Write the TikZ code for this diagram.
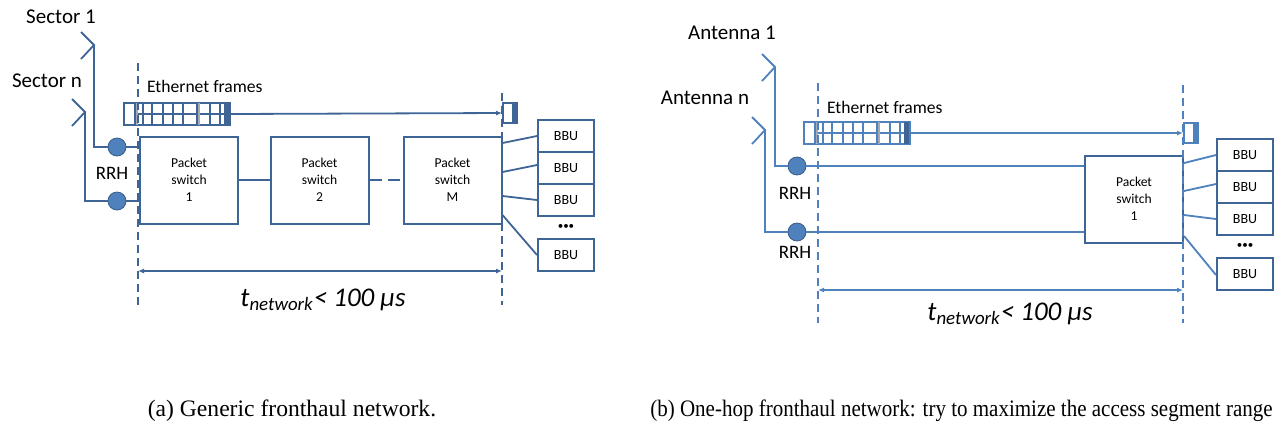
\documentclass[tikz,border=0pt]{standalone}
\usepackage{fontspec}
\setmainfont{Carlito}
\newfontfamily\capfont{Liberation Serif}
\usetikzlibrary{arrows.meta}

\definecolor{wirea}{RGB}{63,100,150}
\definecolor{wireb}{RGB}{79,129,189}
\definecolor{rrhfill}{RGB}{79,129,189}
\definecolor{rrhedge}{RGB}{56,93,138}
\definecolor{framegray}{RGB}{165,170,180}

\newcommand{\pktsize}{\fontsize{6.8}{8.5}\selectfont}
\newcommand{\bbusize}{\fontsize{7}{8}\selectfont}
\newcommand{\tagsize}{\fontsize{10.5}{12}\selectfont}

% chevron antenna, apex gets the name #1
\newcommand{\antenna}[4]{
    \draw[#4, line width=0.9pt] (#2-13,#3-13) -- (#2,#3) -- (#2-13,#3+14);
    \coordinate (#1) at (#2,#3);
}
% queue of ethernet frames, west end at (#2,#3)
\newcommand{\frameq}[5]{
    \node[draw=#4, line width=0.8pt, minimum width=53pt, minimum height=11pt,
          inner sep=0pt, anchor=west] (#1) at (#2,#3) {};
    \draw[#4, line width=0.6pt] (#2+12,#3) -- (#2+106,#3);
    \foreach \d in {12,74} {
        \draw[framegray, line width=1.4pt] ({#2+\d+2},#3-11) -- ++(0,22);
    }
    \foreach \d in {12,20,29,40,50,60,74,87,97} {
        \draw[#4, line width=0.8pt] ({#2+\d},#3-11) -- ++(0,22);
    }
    \fill[#5] (#2+101,#3-11) rectangle (#2+106,#3+11);
}
% frame that arrived at the far side
\newcommand{\rxframe}[4]{
    \node[draw=#4, line width=0.8pt, minimum width=7pt, minimum height=10pt,
          inner sep=0pt, anchor=west] (#1) at (#2,#3) {};
    \fill[#4] ([xshift=-3pt]#1.north east) rectangle (#1.south east);
}

\begin{document}
\begin{tikzpicture}[x=0.5pt, y=-0.5pt,
    wire/.style={line width=0.9pt},
    cut/.style={dash pattern=on 4pt off 2.5pt, line width=0.8pt},
    pswitch/.style={draw=wirea, line width=1pt, minimum width=49pt, minimum height=43.5pt,
                    inner sep=0pt, align=center, font=\pktsize},
    bbu/.style={draw=wirea, line width=1pt, minimum width=28pt, minimum height=16pt,
                inner sep=0pt, font=\bbusize},
    rrh/.style={circle, fill=rrhfill, draw=rrhedge, line width=0.4pt, minimum size=9pt, inner sep=0pt},
    span/.style={{Latex[length=3pt,width=2.5pt]}-{Latex[length=3pt,width=2.5pt]}, line width=0.8pt},
    delay/.style={font=\fontsize{13.5}{15}\selectfont\itshape},
    caption/.style={font=\capfont\fontsize{11.8}{13}\selectfont},
]
\useasboundingbox (0,0) rectangle (1280,430);

% (a) generic fronthaul network
\node[font=\tagsize] (sec1) at (61,17) {Sector 1};
\node[font=\tagsize] (secn) at (47,81) {Sector n};
\antenna{antA1}{94}{45}{wirea}
\antenna{antAn}{85}{112}{wirea}
\node[rrh] (rrhA1) at (117,147) {};
\node[rrh] (rrhAn) at (117,201) {};
\node[font=\fontsize{9.5}{11}\selectfont] (rrhlabA) at (112,173) {RRH};
\draw[wirea, wire] (antA1) |- (rrhA1);
\draw[wirea, wire] (antAn) |- (rrhAn);

\node[pswitch] (psA1) at (189,180) {Packet\\switch\\1};
\node[pswitch] (psA2) at (319.5,180) {Packet\\switch\\2};
\node[pswitch] (psAM) at (452.5,180) {Packet\\switch\\M};
\draw[wirea, wire] (rrhA1) -- (rrhA1 -| psA1.west);
\draw[wirea, wire] (rrhAn) -- (rrhAn -| psA1.west);
\draw[wirea, wire] (psA1) -- (psA2);
\draw[wirea, wire, dash pattern=on 6pt off 3pt] (psA2) -- (psAM);

\node[bbu] (bbuA1) at (566,136) {BBU};
\node[bbu] (bbuA2) at (566,168) {BBU};
\node[bbu] (bbuA3) at (566,200) {BBU};
\node[bbu] (bbuA4) at (566,255) {BBU};
\node[font=\fontsize{5.5}{7}\selectfont] (dotsA) at (566,227) {\textbullet\textbullet\textbullet};
\draw[wirea, wire] ([yshift=18.5pt]psAM.east) -- (bbuA1.west);
\draw[wirea, wire] ([yshift=4pt]psAM.east) -- ([yshift=1.5pt]bbuA2.west);
\draw[wirea, wire] ([yshift=-8pt]psAM.east) -- (bbuA3.west);
\draw[wirea, wire] ([yshift=-17.5pt]psAM.east) -- (bbuA4.west);

\node[font=\fontsize{8.8}{10}\selectfont, anchor=west] (ethA) at (140,86) {Ethernet frames};
\frameq{fqA}{123}{114}{wirea}{wirea}
\rxframe{rxA}{502}{113}{wirea}
\draw[wirea, wire, -{Latex[length=3pt,width=2.5pt]}] (fqA.east) -- (rxA.west);

\coordinate (cutA1) at (138,63);
\coordinate (cutA2) at (138,305);
\coordinate (cutA3) at (502,93);
\coordinate (cutA4) at (502,305);
\draw[wirea, cut] (cutA1) -- (cutA2);
\draw[wirea, cut] (cutA3) -- (cutA4);
\coordinate (spanA1) at (138,271);
\coordinate (spanA2) at (502,271);
\draw[wirea, span] (spanA1) -- (spanA2);
\node[delay] (delayA) at (323,300) {t\textsubscript{network}< 100 µs};

% (b) one-hop fronthaul network
\node[font=\tagsize] (ant1lab) at (732,33) {Antenna 1};
\node[font=\tagsize] (antnlab) at (705,98) {Antenna n};
\antenna{antB1}{775}{67}{wireb}
\antenna{antBn}{765}{130}{wireb}
\node[rrh] (rrhB1) at (797,166) {};
\node[rrh] (rrhBn) at (797,232) {};
\node[font=\fontsize{9.5}{11}\selectfont] (rrhlabB1) at (795,193) {RRH};
\node[font=\fontsize{9.5}{11}\selectfont] (rrhlabBn) at (795,252) {RRH};
\draw[wireb, wire] (antB1) |- (rrhB1);
\draw[wireb, wire] (antBn) |- (rrhBn);

\node[pswitch] (psB1) at (1134,199) {Packet\\switch\\1};
\draw[wireb, wire] (rrhB1) -- (rrhB1 -| psB1.west);
\draw[wireb, wire] (rrhBn) -- (rrhBn -| psB1.west);

\node[bbu] (bbuB1) at (1245,155) {BBU};
\node[bbu] (bbuB2) at (1245,187) {BBU};
\node[bbu] (bbuB3) at (1245,219) {BBU};
\node[bbu] (bbuB4) at (1245,274) {BBU};
\node[font=\fontsize{5.5}{7}\selectfont] (dotsB) at (1245,246) {\textbullet\textbullet\textbullet};
\draw[wireb, wire] ([yshift=18pt]psB1.east) -- (bbuB1.west);
\draw[wireb, wire] ([yshift=4pt]psB1.east) -- ([yshift=1.5pt]bbuB2.west);
\draw[wireb, wire] ([yshift=-8pt]psB1.east) -- (bbuB3.west);
\draw[wireb, wire] ([yshift=-18.5pt]psB1.east) -- ([yshift=-0.5pt]bbuB4.west);

\node[font=\fontsize{8.8}{10}\selectfont, anchor=west] (ethB) at (820,107) {Ethernet frames};
\frameq{fqB}{803}{133}{wireb}{wirea}
\rxframe{rxB}{1183}{133}{wireb}
\draw[wireb, wire, -{Latex[length=3pt,width=2.5pt]}] (fqB.east) -- (rxB.west);

\coordinate (cutB1) at (818,83);
\coordinate (cutB2) at (818,323);
\coordinate (cutB3) at (1183,85);
\coordinate (cutB4) at (1183,323);
\draw[wireb, cut] (cutB1) -- (cutB2);
\draw[wireb, cut] (cutB3) -- (cutB4);
\coordinate (spanB1) at (818,290);
\coordinate (spanB2) at (1183,290);
\draw[wireb, span] (spanB1) -- (spanB2);
\node[delay] (delayB) at (1010,314) {t\textsubscript{network}< 100 µs};

% captions
\node[caption] (capA) at (292,411) {(a) Generic fronthaul network.};
\node[caption, anchor=west, xscale=0.89, transform shape] (capB) at (644,411) {(b) One-hop fronthaul network: try to maximize the access segment range};

\end{tikzpicture}
\end{document}
